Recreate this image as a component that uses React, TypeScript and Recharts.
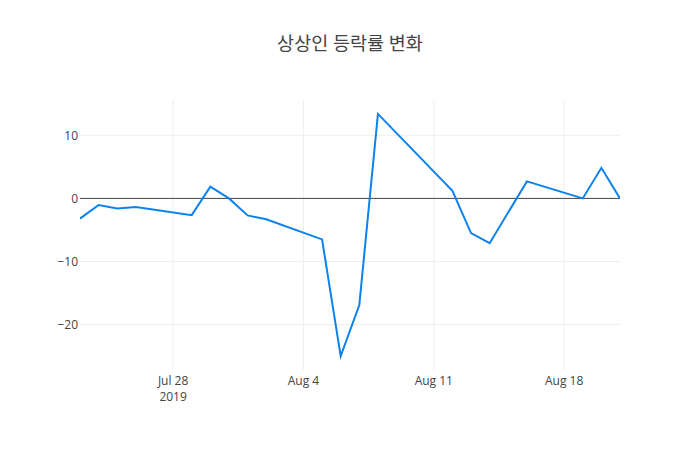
import React from "react";
import { LineChart, Line, XAxis, YAxis, ReferenceLine } from "recharts";

const dates = [
  "2019-07-23", "2019-07-24", "2019-07-25", "2019-07-26", "2019-07-29", "2019-07-30",
  "2019-07-31", "2019-08-01", "2019-08-02", "2019-08-05", "2019-08-06", "2019-08-07",
  "2019-08-08", "2019-08-12", "2019-08-13", "2019-08-14", "2019-08-16", "2019-08-19",
  "2019-08-20", "2019-08-21",
];
const changes = [
  -3.2, -1.05, -1.6, -1.35, -2.65, 1.85,
  0.0, -2.7, -3.3, -6.5, -25.0, -16.9,
  13.4, 1.2, -5.5, -7.1, 2.7, 0.0,
  4.85, 0.0,
];
const xTickDates = ["2019-07-28", "2019-08-04", "2019-08-11", "2019-08-18"];
const xTickLabels = ["Jul 28", "Aug 4", "Aug 11", "Aug 18"];
const yTicks = [-20, -10, 0, 10];
const title = "상상인 등락률 변화";

const toTs = (d: string) => new Date(d + "T00:00:00Z").getTime();
const data = dates.map((d, i) => ({ t: toTs(d), v: changes[i] }));
const xTicks = xTickDates.map(toTs);
const xDomain = [toTs("2019-07-23"), toTs("2019-08-21")];

const FONT = '"Open Sans", "Noto Sans CJK KR", verdana, arial, sans-serif';

const XTick = (props: any) => {
  const { x, y, payload } = props;
  const idx = xTicks.indexOf(payload.value);
  const label = idx >= 0 ? xTickLabels[idx] : "";
  return (
    <g>
      <text x={x} y={y} dy={13} textAnchor="middle" fill="#444" fontSize={12} fontFamily={FONT}>
        {label}
      </text>
      {idx === 0 && (
        <text x={x} y={y} dy={29} textAnchor="middle" fill="#444" fontSize={12} fontFamily={FONT}>
          2019
        </text>
      )}
    </g>
  );
};

const fmtY = (v: number) => (v < 0 ? "\u2212" + Math.abs(v) : String(v));

export default function App() {
  return (
    <div style={{ position: "absolute", left: 0, top: 0, width: 700, height: 450, background: "#fff" }}>
      <div
        style={{
          position: "absolute",
          left: 0,
          top: 31,
          width: 700,
          textAlign: "center",
          fontSize: 18.5,
          color: "#444",
          fontFamily: FONT,
          lineHeight: "24px",
        }}
      >
        {title}
      </div>
      <LineChart width={700} height={450} data={data} margin={{ top: 100, right: 80, left: 0, bottom: 0 }}>
        <XAxis
          dataKey="t"
          type="number"
          scale="time"
          domain={xDomain}
          ticks={xTicks}
          tick={<XTick />}
          tickLine={false}
          axisLine={false}
          tickSize={0}
          height={80}
          interval={0}
          allowDataOverflow
        />
        <YAxis
          type="number"
          domain={[-27.2, 15.6]}
          ticks={yTicks}
          tickFormatter={fmtY}
          tick={{ fill: "#444", fontSize: 12, fontFamily: FONT }}
          tickLine={false}
          axisLine={false}
          tickSize={0}
          tickMargin={2}
          width={80}
          interval={0}
          allowDataOverflow
        />
        {xTicks.map((t) => (
          <ReferenceLine key={"x" + t} x={t} stroke="#eee" strokeWidth={1} />
        ))}
        {yTicks
          .filter((v) => v !== 0)
          .map((v) => (
            <ReferenceLine key={"y" + v} y={v} stroke="#eee" strokeWidth={1} />
          ))}
        <ReferenceLine y={0} stroke="#444" strokeWidth={1} />
        <Line
          type="linear"
          dataKey="v"
          stroke="#0d82ed"
          strokeWidth={2}
          dot={false}
          isAnimationActive={false}
        />
      </LineChart>
    </div>
  );
}
